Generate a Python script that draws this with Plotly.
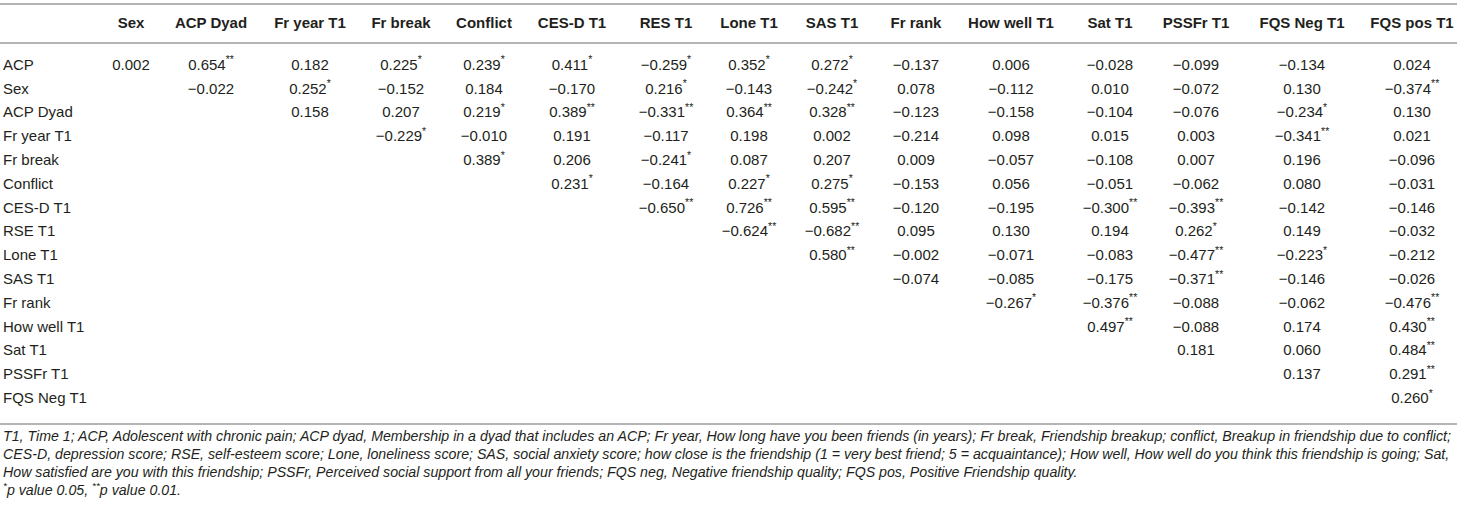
import plotly.graph_objects as go

# Correlation table: rows x columns, upper triangle only
row_labels = ["ACP", "Sex", "ACP Dyad", "Fr year T1", "Fr break", "Conflict", "CES-D T1",
              "RSE T1", "Lone T1", "SAS T1", "Fr rank", "How well T1", "Sat T1",
              "PSSFr T1", "FQS Neg T1"]
col_labels = ["Sex", "ACP Dyad", "Fr year T1", "Fr break", "Conflict", "CES-D T1", "RES T1",
              "Lone T1", "SAS T1", "Fr rank", "How well T1", "Sat T1", "PSSFr T1",
              "FQS Neg T1", "FQS pos T1"]

# row i starts at column i
r_values = [
    [0.002, 0.654, 0.182, 0.225, 0.239, 0.411, -0.259, 0.352, 0.272, -0.137, 0.006, -0.028, -0.099, -0.134, 0.024],
    [-0.022, 0.252, -0.152, 0.184, -0.170, 0.216, -0.143, -0.242, 0.078, -0.112, 0.010, -0.072, 0.130, -0.374],
    [0.158, 0.207, 0.219, 0.389, -0.331, 0.364, 0.328, -0.123, -0.158, -0.104, -0.076, -0.234, 0.130],
    [-0.229, -0.010, 0.191, -0.117, 0.198, 0.002, -0.214, 0.098, 0.015, 0.003, -0.341, 0.021],
    [0.389, 0.206, -0.241, 0.087, 0.207, 0.009, -0.057, -0.108, 0.007, 0.196, -0.096],
    [0.231, -0.164, 0.227, 0.275, -0.153, 0.056, -0.051, -0.062, 0.080, -0.031],
    [-0.650, 0.726, 0.595, -0.120, -0.195, -0.300, -0.393, -0.142, -0.146],
    [-0.624, -0.682, 0.095, 0.130, 0.194, 0.262, 0.149, -0.032],
    [0.580, -0.002, -0.071, -0.083, -0.477, -0.223, -0.212],
    [-0.074, -0.085, -0.175, -0.371, -0.146, -0.026],
    [-0.267, -0.376, -0.088, -0.062, -0.476],
    [0.497, -0.088, 0.174, 0.430],
    [0.181, 0.060, 0.484],
    [0.137, 0.291],
    [0.260],
]
r_stars = [
    ["", "**", "", "*", "*", "*", "*", "*", "*", "", "", "", "", "", ""],
    ["", "*", "", "", "", "*", "", "*", "", "", "", "", "", "**"],
    ["", "", "*", "**", "**", "**", "**", "", "", "", "", "*", ""],
    ["*", "", "", "", "", "", "", "", "", "", "**", ""],
    ["*", "", "*", "", "", "", "", "", "", "", ""],
    ["*", "", "*", "*", "", "", "", "", "", ""],
    ["**", "**", "**", "", "", "**", "**", "", ""],
    ["**", "**", "", "", "", "*", "", ""],
    ["**", "", "", "", "**", "*", ""],
    ["", "", "", "**", "", ""],
    ["*", "**", "", "", "**"],
    ["**", "", "", "**"],
    ["", "", "**"],
    ["", "**"],
    ["*"],
]

footnotes = [
    "T1, Time 1; ACP, Adolescent with chronic pain; ACP dyad, Membership in a dyad that includes an ACP; "
    "Fr year, How long have you been friends (in years); Fr break, Friendship breakup; conflict, Breakup in friendship due to conflict;",
    "CES-D, depression score; RSE, self-esteem score; Lone, loneliness score; SAS, social anxiety score; "
    "how close is the friendship (1 = very best friend; 5 = acquaintance); How well, How well do you think this friendship is going; Sat,",
    "How satisfied are you with this friendship; PSSFr, Perceived social support from all your friends; "
    "FQS neg, Negative friendship quality; FQS pos, Positive Friendship quality.",
    "<sup>*</sup>p value 0.05, <sup>**</sup>p value 0.01.",
]

# layout (pixel space)
W, H = 1460, 512
FONT = "Liberation Sans"
INK = "#231f20"
RULE = "#b4b4b4"
col_x = [131, 211, 310, 401, 484, 572, 666, 749, 832, 916, 1011, 1110, 1196, 1302, 1412]
LABEL_X = 3
HEADER_Y = 24
FIRST_ROW_Y = 66
ROW_H = 23.8
NOTE_Y = 437
NOTE_H = 18
RULES_Y = [4, 43, 424]


def fmt(v, s):
    txt = f"{abs(v):.3f}"
    if v < 0:
        txt = "\u2212" + txt
    if s:
        txt += f"<sup>{s}</sup>"
    return txt


row_y = [FIRST_ROW_Y + i * ROW_H for i in range(len(row_labels))]

xs, ys, texts = [], [], []
for i, (vals, stars) in enumerate(zip(r_values, r_stars)):
    for k, (v, s) in enumerate(zip(vals, stars)):
        xs.append(col_x[i + k])
        ys.append(row_y[i])
        texts.append(fmt(v, s))

fig = go.Figure()

# header
fig.add_trace(go.Scatter(
    x=col_x, y=[HEADER_Y] * len(col_labels), mode="text", text=col_labels,
    textposition="middle center",
    textfont=dict(family=FONT, size=15, color=INK, weight="bold"),
    hoverinfo="skip", showlegend=False,
))

# row labels
fig.add_trace(go.Scatter(
    x=[LABEL_X] * len(row_labels), y=row_y, mode="text", text=row_labels,
    textposition="middle right",
    textfont=dict(family=FONT, size=15, color=INK),
    hoverinfo="skip", showlegend=False,
))

# values
fig.add_trace(go.Scatter(
    x=xs, y=ys, mode="text", text=texts,
    textposition="middle center",
    textfont=dict(family=FONT, size=15, color=INK),
    hoverinfo="skip", showlegend=False,
))

# footnotes
fig.add_trace(go.Scatter(
    x=[LABEL_X] * len(footnotes), y=[NOTE_Y + i * NOTE_H for i in range(len(footnotes))],
    mode="text", text=footnotes, textposition="middle right",
    textfont=dict(family=FONT, size=14.2, color=INK, style="italic"),
    hoverinfo="skip", showlegend=False,
))

# horizontal rules
for yy in RULES_Y:
    fig.add_shape(type="line", xref="x", yref="y", x0=0, x1=1457, y0=yy, y1=yy,
                  line=dict(color=RULE, width=2))

fig.update_layout(
    width=W, height=H,
    margin=dict(l=0, r=0, t=0, b=0),
    paper_bgcolor="white", plot_bgcolor="white",
    xaxis=dict(range=[0, W], visible=False, fixedrange=True),
    yaxis=dict(range=[H, 0], visible=False, fixedrange=True),
)

# drop the page's default body margin so the figure sits at the window origin
fig.write_html("out.html", config={"displayModeBar": False},
               post_script="document.body.style.margin='0';")
